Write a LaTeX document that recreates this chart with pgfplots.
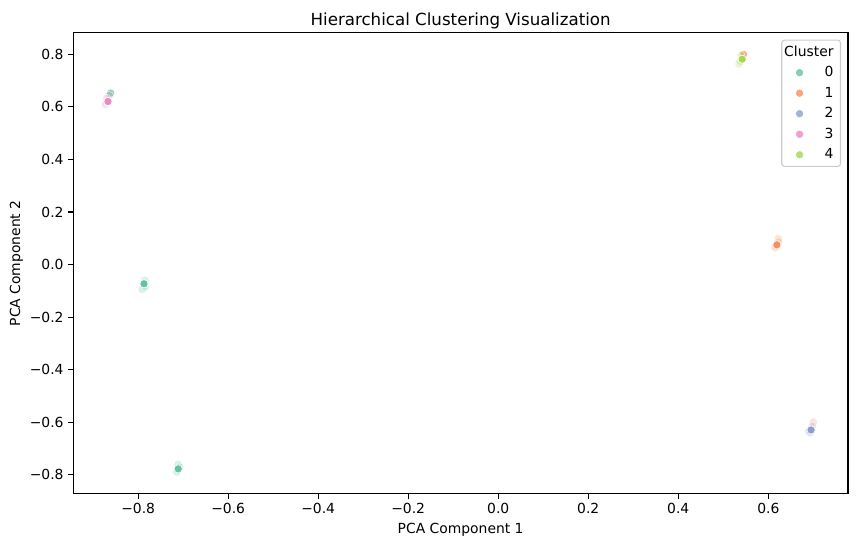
\documentclass[border=0pt]{standalone}
\usepackage{fontspec}
\setmainfont{DejaVu Sans}
\usepackage{pgfplots}
\pgfplotsset{compat=1.18}

% seaborn Set2
\definecolor{cA}{RGB}{102,194,165}
\definecolor{cB}{RGB}{252,141,98}
\definecolor{cC}{RGB}{141,160,203}
\definecolor{cD}{RGB}{231,138,195}
\definecolor{cE}{RGB}{166,216,84}

\pgfplotsset{
  pt/.style={only marks, mark=*, mark size=3pt,
    mark options={draw=white, line width=0.48pt, fill=#1}},
  faded/.style={forget plot, only marks, mark=*, mark size=3pt,
    mark options={draw=white, line width=0.48pt, fill=#1, fill opacity=0.25, draw opacity=0.6}},
  stray/.style={forget plot, only marks, mark=*, mark size=3pt,
    mark options={draw=white, line width=0.48pt, fill=#1, fill opacity=0.75}},
}

\begin{document}
\begin{tikzpicture}
\begin{axis}[
    scale only axis, width=557.8pt, height=332.1pt,
    xmin=-0.944, xmax=0.777, ymin=-0.872, ymax=0.882,
    axis line style={line width=0.8pt},
    tick style={line width=0.8pt, black},
    tick align=outside, major tick length=3.5pt,
    xtick pos=left, ytick pos=left,
    xtick={-0.8,-0.6,-0.4,-0.2,0,0.2,0.4,0.6},
    xticklabels={−0.8,−0.6,−0.4,−0.2,0.0,0.2,0.4,0.6},
    ytick={-0.8,-0.6,-0.4,-0.2,0,0.2,0.4,0.6,0.8},
    yticklabels={−0.8,−0.6,−0.4,−0.2,0.0,0.2,0.4,0.6,0.8},
    tick label style={font=\fontsize{10}{12}\selectfont},
    label style={font=\fontsize{10}{12}\selectfont},
    title={Hierarchical Clustering Visualization},
    title style={font=\fontsize{12}{14}\selectfont, inner sep=0pt, yshift=-3.4pt},
    xlabel={PCA Component 1},
    ylabel={PCA Component 2},
    ylabel style={yshift=-2pt},
    legend image code/.code={%
      \path (-9.4pt,0pt) (9.4pt,0pt);
      \draw[#1] plot coordinates {(0pt,0pt)};},
    legend style={at={(1,1)}, anchor=north east, xshift=-5pt, yshift=-5pt,
      draw=black!20, line width=0.8pt, rounded corners=2pt,
      fill=white, fill opacity=0.8, text opacity=1,
      font=\fontsize{10}{12}\selectfont, cells={anchor=east},
      row sep=1.9pt, column sep=6.3pt},
]
\addlegendimage{empty legend}
\addlegendentry{\makebox[0pt][r]{Cluster}}

% stray points partly hidden under other clusters
\addplot[stray=cA] coordinates {(-0.861,0.652)};
\addplot[stray=cB] coordinates {(0.545,0.799)};
\addplot[faded=cB] coordinates {(0.700,-0.599)};

% faded neighbours around each cluster core
\addplot[faded=cA] coordinates {(-0.785,-0.060) (-0.791,-0.094) (-0.784,-0.085)
  (-0.711,-0.760) (-0.714,-0.789) (-0.708,-0.770)};
\addplot[faded=cB] coordinates {(0.622,0.098) (0.615,0.063) (0.623,0.087) (0.617,0.070)};
\addplot[faded=cC] coordinates {(0.693,-0.640) (0.698,-0.615) (0.690,-0.633)};
\addplot[faded=cD] coordinates {(-0.864,0.643) (-0.873,0.609) (-0.870,0.632)};
\addplot[faded=cE] coordinates {(0.535,0.763) (0.539,0.796) (0.537,0.772)};

% cluster cores
\addplot[pt=cA] coordinates {(-0.787,-0.073) (-0.711,-0.777)};
\addlegendentry{0}
\addplot[pt=cB] coordinates {(0.619,0.075)};
\addlegendentry{1}
\addplot[pt=cC] coordinates {(0.695,-0.629)};
\addlegendentry{2}
\addplot[pt=cD] coordinates {(-0.867,0.620)};
\addlegendentry{3}
\addplot[pt=cE] coordinates {(0.542,0.781)};
\addlegendentry{4}
\end{axis}
\path (current axis.south west) ++(-52.8pt,-38.2pt) coordinate (bbA);
\path (current axis.north east) ++(6.5pt,23.5pt) coordinate (bbB);
\path (bbA) rectangle (bbB);
\end{tikzpicture}
\end{document}
